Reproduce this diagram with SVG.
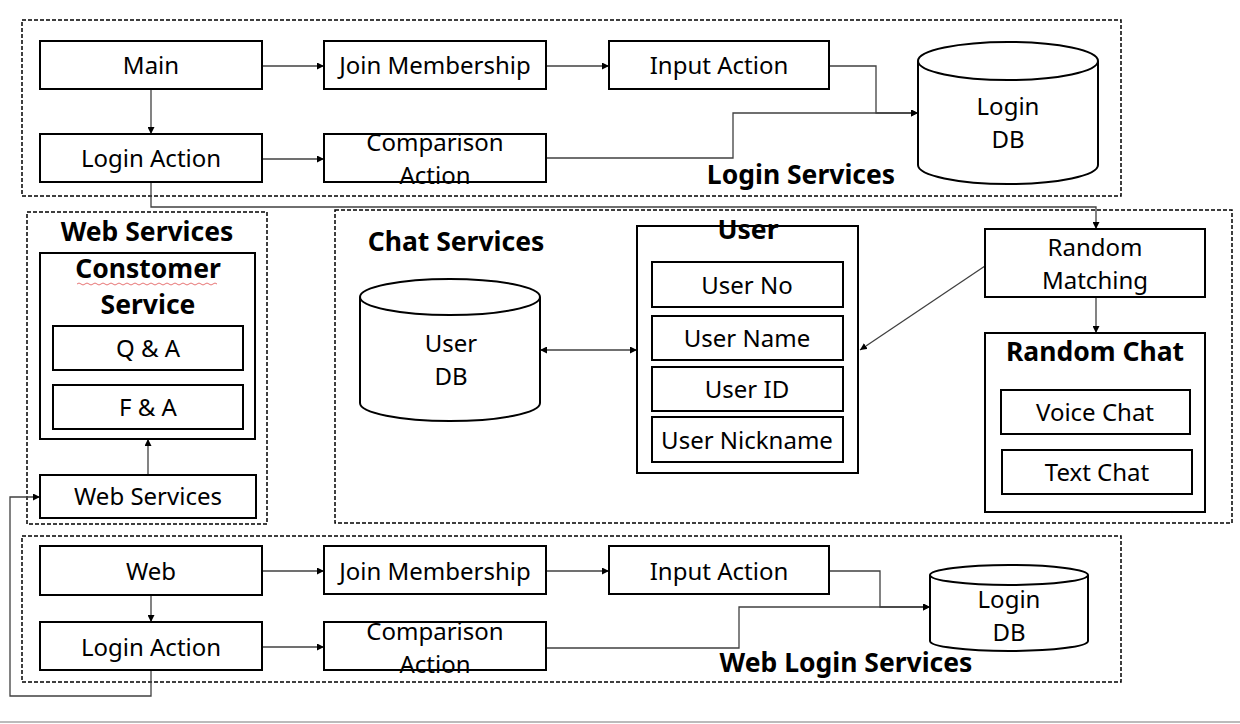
<svg xmlns="http://www.w3.org/2000/svg" width="1240" height="724" viewBox="0 0 1240 724">
<style>
.bg{fill:#fff}
.group{fill:none;stroke:#000;stroke-width:1.5;stroke-dasharray:4 2}
.box{fill:#fff;stroke:#000;stroke-width:2}
.cyl{fill:#fff;stroke:#000;stroke-width:2}
.t{font-family:"Noto Sans","Open Sans","Liberation Sans",sans-serif;font-size:24px;fill:#000;text-anchor:middle}
.b{font-family:"Noto Sans","Open Sans","Liberation Sans",sans-serif;font-size:26.5px;font-weight:bold;fill:#000;text-anchor:middle}
.c{fill:none;stroke:#404040;stroke-width:1.3}
</style>
<defs>
<marker id="ah" viewBox="0 0 10 10" refX="10" refY="5" markerWidth="7" markerHeight="7" orient="auto-start-reverse" markerUnits="userSpaceOnUse">
<path d="M0,0 L10,5 L0,10 z" fill="#000"/>
</marker>
</defs>
<rect class="bg" x="0" y="0" width="1240" height="724"/>
<line x1="0" y1="722" x2="1240" y2="722" stroke="#bbb" stroke-width="2"/>

<g id="group-login-services">
<rect class="group" x="22" y="20" width="1099" height="176"/>
<text class="b" x="801" y="184">Login Services</text>
</g>
<g id="group-web-services">
<rect class="group" x="27" y="212" width="240" height="312"/>
<text class="b" x="147" y="241">Web Services</text>
</g>
<g id="group-chat-services">
<rect class="group" x="335" y="210" width="897" height="313"/>
<text class="b" x="456" y="251">Chat Services</text>
</g>
<g id="group-web-login-services">
<rect class="group" x="22" y="536" width="1099" height="146"/>
<text class="b" x="846" y="672">Web Login Services</text>
</g>

<g id="connectors">
<line class="c" x1="262" y1="66" x2="324" y2="66" marker-end="url(#ah)"/>
<line class="c" x1="546" y1="66" x2="609" y2="66" marker-end="url(#ah)"/>
<line class="c" x1="151" y1="89" x2="151" y2="134" marker-end="url(#ah)"/>
<line class="c" x1="262" y1="159" x2="324" y2="159" marker-end="url(#ah)"/>
<polyline class="c" points="829,66 876,66 876,113 918,113" marker-end="url(#ah)"/>
<polyline class="c" points="546,158 733,158 733,113 918,113" marker-end="url(#ah)"/>
<polyline class="c" points="151,182 151,207 1096,207 1096,229" marker-end="url(#ah)"/>
<line class="c" x1="148" y1="475" x2="148" y2="439" marker-end="url(#ah)"/>
<line class="c" x1="540" y1="350" x2="637" y2="350" marker-start="url(#ah)" marker-end="url(#ah)"/>
<line class="c" x1="985" y1="266" x2="860" y2="350" marker-end="url(#ah)"/>
<line class="c" x1="1096" y1="297" x2="1096" y2="333" marker-end="url(#ah)"/>
<line class="c" x1="262" y1="571" x2="324" y2="571" marker-end="url(#ah)"/>
<line class="c" x1="546" y1="571" x2="609" y2="571" marker-end="url(#ah)"/>
<line class="c" x1="151" y1="595" x2="151" y2="622" marker-end="url(#ah)"/>
<line class="c" x1="262" y1="647" x2="324" y2="647" marker-end="url(#ah)"/>
<polyline class="c" points="829,571 880,571 880,607 930,607" marker-end="url(#ah)"/>
<polyline class="c" points="546,648 739,648 739,607 930,607" marker-end="url(#ah)"/>
<polyline class="c" points="151,670 151,696 10,696 10,497 40,497" marker-end="url(#ah)"/>
</g>

<g id="main"><rect class="box" x="40" y="41" width="222" height="48"/><text class="t" x="151" y="74">Main</text></g>
<g id="join-membership"><rect class="box" x="324" y="41" width="222" height="48"/><text class="t" x="435" y="74">Join Membership</text></g>
<g id="input-action"><rect class="box" x="609" y="41" width="220" height="48"/><text class="t" x="719" y="74">Input Action</text></g>
<g id="login-action"><rect class="box" x="40" y="134" width="222" height="48"/><text class="t" x="151" y="167">Login Action</text></g>
<g id="comparison-action"><rect class="box" x="324" y="134" width="222" height="48"/><text class="t" x="435" y="151">Comparison</text><text class="t" x="435" y="184">Action</text></g>
<g id="login-db">
<path class="cyl" d="M918,61 A90,19 0 0 1 1098,61 L1098,165 A90,19 0 0 1 918,165 Z"/>
<path class="cyl" d="M918,61 A90,19 0 0 0 1098,61"/>
<text class="t" x="1008" y="115">Login</text><text class="t" x="1008" y="148">DB</text>
</g>

<g id="constomer-service">
<rect class="box" x="40" y="253" width="215" height="186"/>
<text class="b" x="148" y="278">Constomer</text>
<path d="M77,284 q2,-2 4,0 t4,0 t4,0 t4,0 t4,0 t4,0 t4,0 t4,0 t4,0 t4,0 t4,0 t4,0 t4,0 t4,0 t4,0 t4,0 t4,0 t4,0 t4,0 t4,0 t4,0 t4,0 t4,0 t4,0 t4,0 t4,0 t4,0 t4,0 t4,0 t4,0 t4,0 t4,0 t4,0 t4,0 t4,0" fill="none" stroke="#e05050" stroke-width="0.8"/>
<text class="b" x="148" y="314">Service</text>
</g>
<g id="qa"><rect class="box" x="53" y="326" width="190" height="44"/><text class="t" x="148" y="357">Q &amp; A</text></g>
<g id="fa"><rect class="box" x="53" y="385" width="190" height="44"/><text class="t" x="148" y="416">F &amp; A</text></g>
<g id="web-services-node"><rect class="box" x="40" y="475" width="216" height="43"/><text class="t" x="148" y="505">Web Services</text></g>

<g id="user-db">
<path class="cyl" d="M360,297 A90,18 0 0 1 540,297 L540,403 A90,18 0 0 1 360,403 Z"/>
<path class="cyl" d="M360,297 A90,18 0 0 0 540,297"/>
<text class="t" x="451" y="352">User</text><text class="t" x="451" y="385">DB</text>
</g>
<g id="user">
<rect class="box" x="637" y="226" width="221" height="247"/>
<text class="b" x="748" y="239">User</text>
</g>
<g id="user-no"><rect class="box" x="652" y="262" width="191" height="45"/><text class="t" x="747" y="294">User No</text></g>
<g id="user-name"><rect class="box" x="652" y="316" width="191" height="44"/><text class="t" x="747" y="347">User Name</text></g>
<g id="user-id"><rect class="box" x="652" y="367" width="191" height="44"/><text class="t" x="747" y="398">User ID</text></g>
<g id="user-nickname"><rect class="box" x="652" y="417" width="191" height="45"/><text class="t" x="747" y="449">User Nickname</text></g>
<g id="random-matching"><rect class="box" x="985" y="229" width="220" height="68"/><text class="t" x="1095" y="256">Random</text><text class="t" x="1095" y="289">Matching</text></g>
<g id="random-chat"><rect class="box" x="985" y="333" width="220" height="179"/><text class="b" x="1095" y="361">Random Chat</text></g>
<g id="voice-chat"><rect class="box" x="1001" y="390" width="189" height="44"/><text class="t" x="1095" y="421">Voice Chat</text></g>
<g id="text-chat"><rect class="box" x="1002" y="450" width="190" height="44"/><text class="t" x="1097" y="481">Text Chat</text></g>

<g id="web"><rect class="box" x="40" y="546" width="222" height="49"/><text class="t" x="151" y="580">Web</text></g>
<g id="join-membership-2"><rect class="box" x="324" y="546" width="222" height="48"/><text class="t" x="435" y="580">Join Membership</text></g>
<g id="input-action-2"><rect class="box" x="609" y="546" width="220" height="48"/><text class="t" x="719" y="580">Input Action</text></g>
<g id="login-action-2"><rect class="box" x="40" y="622" width="222" height="48"/><text class="t" x="151" y="656">Login Action</text></g>
<g id="comparison-action-2"><rect class="box" x="324" y="622" width="222" height="48"/><text class="t" x="435" y="640">Comparison</text><text class="t" x="435" y="673">Action</text></g>
<g id="login-db-2">
<path class="cyl" d="M930,575 A79,10 0 0 1 1088,575 L1088,641 A79,10 0 0 1 930,641 Z"/>
<path class="cyl" d="M930,575 A79,10 0 0 0 1088,575"/>
<text class="t" x="1009" y="608">Login</text><text class="t" x="1009" y="641">DB</text>
</g>
</svg>
